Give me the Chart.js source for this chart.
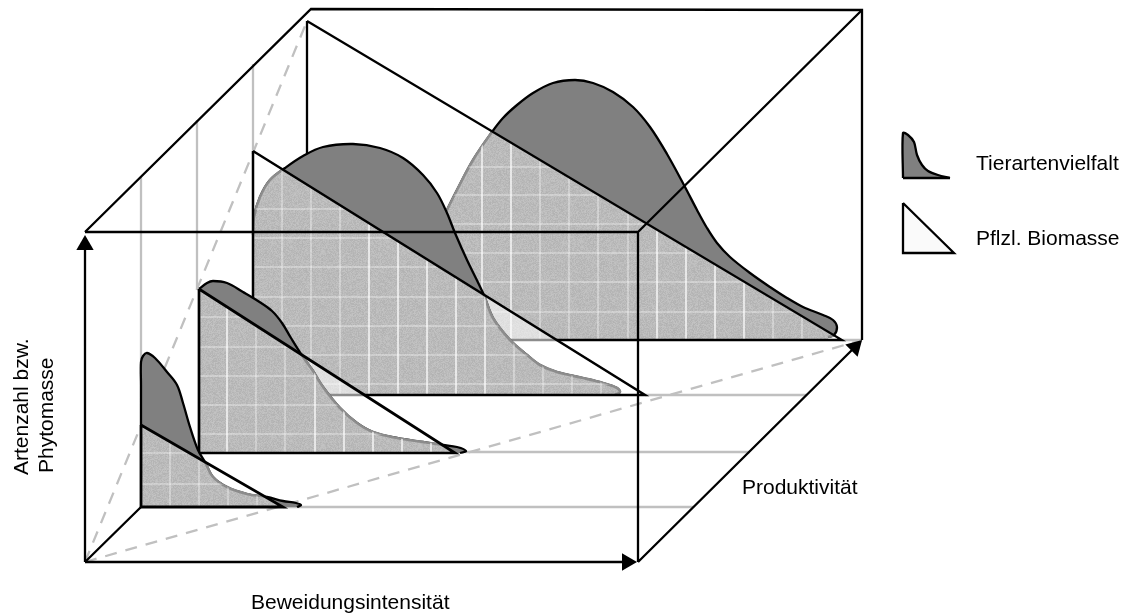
<!DOCTYPE html>
<html lang="de">
<head>
<meta charset="utf-8">
<title>Beweidungsintensität</title>
<script src="https://cdn.jsdelivr.net/npm/chart.js@4/dist/chart.umd.min.js"></script>
<style>
    html, body { margin: 0; padding: 0; background: #fff; }
    #wrap { width: 1128px; height: 615px; }
</style>
</head>
<body>
<div id="wrap"><canvas id="chart"></canvas></div>
<script>
// Diagram coordinates: x to the right, y downwards
const curve1 = [[141,425],[141,385],[141,362],[143,356],[147,353],[155,358],[167,372],[177,385],[183,403],[190,427],[198,450],[205,462],[213,477],[227,487],[247,494],[267,497],[283,501],[296,503],[301,505],[297,507]];
const curve2 = [[199,289],[207,283],[213,281],[227,283],[243,292],[258,301],[272,311],[282,323],[291,338],[303,357],[313,371],[323,387],[340,408],[357,423],[373,432],[397,438],[423,442],[443,445],[457,447],[466,451],[460,453]];
const curve3 = [[253,235],[254,217],[260,197],[270,180],[285,168],[303,156],[323,147],[353,144],[380,148],[403,158],[423,175],[437,193],[447,213],[455,233],[467,260],[483,293],[493,318],[510,340],[527,355],[540,365],[557,372],[583,378],[603,383],[617,388],[620,392],[615,395]];
const curve4 = [[425,340],[435,235],[447,210],[457,190],[473,160],[492,132],[503,118],[517,105],[533,93],[553,83],[575,80],[593,83],[613,92],[633,107],[650,127],[667,154],[685,187],[697,210],[707,228],[717,243],[730,257],[750,273],[770,287],[787,298],[803,307],[823,315],[833,320],[837,327],[834,335],[828,337]];

const triangle1 = [[141,425],[283,507],[141,507]];
const triangle2 = [[199,289],[455,453],[199,453]];
const triangle3 = [[253,151],[645,395],[253,395]];
const triangle4 = [[307,21],[842,340],[307,340]];

const gridRows1 = [453,484];
const gridRows2 = [317,347,376,405,434];
const gridRows3 = [209,238,267,297,326,355,384];
const gridRows4 = [167,195,224,253,282,312];
const gridCols1 = [];
const gridCols2 = [227,315,344,373,402,431];
const gridCols3 = [369,398,427,456,485];
const gridCols4 = [482,511,657,686,715,744];
const faintCols1 = [170,199,228,257];
const faintCols2 = [256,285];
const faintCols3 = [282,311,340,514,543,572,601];
const faintCols4 = [540,569,598,628,773,802];

const backGrey = [[[141,176],[141,425]],[[197,120],[197,289]],[[253,64],[253,151]],[[283,507],[693,507]],[[455,452],[750,452]],[[645,395],[806,395]],[[842,340],[862,340]]];
const dashedLines = [[[85,562],[307,21]],[[85,562],[862,340]]];
const backBox = [[[85,232],[311,9],[862,10],[862,340]],[[85,562],[141,507]]];
const frontBox = [[[85,232],[638,232],[638,562]],[[638,232],[862,10]],[[85,562],[85,245]],[[85,562],[627,562]],[[638,562],[855,347]]];
const arrowTips = [[85,245],[627,562],[855,347]];
const arrowAngles = [0,90,45];

const legendCurve = [[903,178],[903,133],[908,135],[914,142],[917,155],[922,165],[928,171],[938,175],[950,178]];
const legendBase = [[903,178],[950,178]];
const legendTriangle = [[903,203],[954,253],[903,253]];

const labelTexts = ["Tierartenvielfalt","Pflzl. Biomasse","Produktivität","Beweidungsintensität","Artenzahl bzw.","Phytomasse"];
const labelSpots = [[976,170],[976,245],[742,494],[251,609],[28,475],[53,473]];
const labelAngles = [0,0,0,0,-90,-90];

const darkFill = "#808080";
const greyLine = "#c0c0c0";

// speckled fill, the light grey paper texture of the original
const makeSpeckle = () => {
    const tile = document.createElement("canvas");
    tile.width = 97;
    tile.height = 97;
    const tileCtx = tile.getContext("2d");
    const image = tileCtx.createImageData(97, 97);
    let seed = 12345;
    for (let i = 0; i < image.data.length; i += 4) {
        seed = (seed * 1103515245 + 12345) & 0x7fffffff;
        const grey = 178 + ((seed >> 16) % 18);
        image.data[i] = grey;
        image.data[i + 1] = grey;
        image.data[i + 2] = grey;
        image.data[i + 3] = 255;
    }
    tileCtx.putImageData(image, 0, 0);
    return tileCtx.createPattern(tile, "repeat");
};
const speckle = makeSpeckle();

const datasets = [];
const addLines = (segments, style) => {
    const data = [];
    segments.forEach((segment) => {
        segment.forEach(([x, y]) => data.push({ x, y }));
        data.push({ x: null, y: null });
    });
    data.pop();
    datasets.push(Object.assign({
        data,
        showLine: true,
        pointRadius: 0,
        borderColor: "#000",
        borderWidth: 2.3,
        borderJoinStyle: "miter",
        tension: 0,
        fill: false,
        clip: false,
        order: -datasets.length
    }, style));
};

const addLayer = (name, curve, triangle, rows, cols, faint, width) => {
    const base = triangle[2][1];
    const left = triangle[2][0];
    const right = curve.reduce((m, p) => Math.max(m, p[0]), triangle[1][0]);
    const closeTo = [[curve[curve.length - 1][0], base], [curve[0][0], base]];
    const curveStyle = { tension: 0.35, closeTo };

    // white veil of the triangle over whatever lies behind it
    addLines([triangle], { label: name + "-triangle", borderWidth: 0, borderColor: "transparent", area: "rgba(255,255,255,0.55)" });
    addLines([curve], Object.assign({ label: name + "-curve", area: darkFill, borderWidth: 2.3 }, curveStyle));
    addLines([curve], Object.assign({ area: speckle, borderColor: "#8c8c8c", borderWidth: 2.6, clipTo: [name + "-triangle"] }, curveStyle));

    const clipTo = [name + "-triangle", name + "-curve"];
    const rowLines = rows.map((y) => [[left, y], [right, y]]);
    const colLines = cols.map((x) => [[x, triangle[0][1]], [x, base]]);
    const faintLines = faint.map((x) => [[x, triangle[0][1]], [x, base]]);
    addLines(rowLines.concat(colLines), { borderColor: "rgba(255,255,255,0.6)", borderWidth: 1, clipTo });
    if (faintLines.length) {
        addLines(faintLines, { borderColor: "rgba(255,255,255,0.25)", borderWidth: 1, clipTo });
    }
    addLines([triangle.concat([triangle[0]])], { borderWidth: width });
};

addLines(backGrey, { borderColor: greyLine });
addLines(dashedLines, { borderColor: greyLine, borderDash: [12, 9] });
addLines(backBox, {});
addLayer("t4", curve4, triangle4, gridRows4, gridCols4, faintCols4, 2.3);
addLayer("t3", curve3, triangle3, gridRows3, gridCols3, faintCols3, 2.5);
addLayer("t2", curve2, triangle2, gridRows2, gridCols2, faintCols2, 2.7);
addLayer("t1", curve1, triangle1, gridRows1, gridCols1, faintCols1, 2.8);
addLines(frontBox, {});
datasets.push({
    data: arrowTips.map(([x, y]) => ({ x, y })),
    pointStyle: "triangle",
    pointRadius: 10,
    pointRotation: arrowAngles,
    pointBackgroundColor: "#000",
    pointBorderWidth: 0,
    showLine: false,
    clip: false,
    order: -datasets.length
});
addLines([legendCurve], { tension: 0.3, area: darkFill, closeTo: [[903, 178]] });
addLines([legendBase], {});
addLines([legendTriangle.concat([legendTriangle[0]])], { area: "#fafafa" });

const tracePath = (chart, dataset, meta) => {
    const ctx = chart.ctx;
    meta.dataset.updateControlPoints(chart.chartArea, "x");
    ctx.beginPath();
    meta.dataset.path(ctx);
    (dataset.closeTo || []).forEach(([x, y]) => {
        ctx.lineTo(chart.scales.x.getPixelForValue(x), chart.scales.y.getPixelForValue(y));
    });
    ctx.closePath();
};

const shapesPlugin = {
    id: "shapes",
    beforeDatasetDraw(chart, args) {
        const dataset = chart.data.datasets[args.index];
        const ctx = chart.ctx;
        ctx.save();
        (dataset.clipTo || []).forEach((name) => {
            const other = chart.data.datasets.findIndex((d) => d.label === name);
            tracePath(chart, chart.data.datasets[other], chart.getDatasetMeta(other));
            ctx.clip();
        });
        if (dataset.area) {
            tracePath(chart, dataset, args.meta);
            ctx.fillStyle = dataset.area;
            ctx.fill();
        }
    },
    afterDatasetDraw(chart) {
        chart.ctx.restore();
    },
    afterDraw(chart) {
        const ctx = chart.ctx;
        ctx.save();
        ctx.font = '21px "Liberation Sans", Arial, sans-serif';
        ctx.fillStyle = "#000";
        ctx.textBaseline = "alphabetic";
        ctx.textAlign = "left";
        labelTexts.forEach((text, i) => {
            ctx.save();
            ctx.translate(chart.scales.x.getPixelForValue(labelSpots[i][0]), chart.scales.y.getPixelForValue(labelSpots[i][1]));
            ctx.rotate(labelAngles[i] * Math.PI / 180);
            ctx.fillText(text, 0, 0);
            ctx.restore();
        });
        ctx.restore();
    }
};

new Chart(document.getElementById("chart"), {
    type: "scatter",
    data: { datasets },
    plugins: [shapesPlugin],
    options: {
        responsive: true,
        maintainAspectRatio: false,
        animation: false,
        layout: { padding: 0, autoPadding: false },
        plugins: { legend: { display: false }, tooltip: { enabled: false } },
        scales: {
            x: { type: "linear", min: 0, max: 1128, display: false },
            y: { type: "linear", min: 0, max: 615, reverse: true, display: false }
        }
    }
});
</script>
</body>
</html>
